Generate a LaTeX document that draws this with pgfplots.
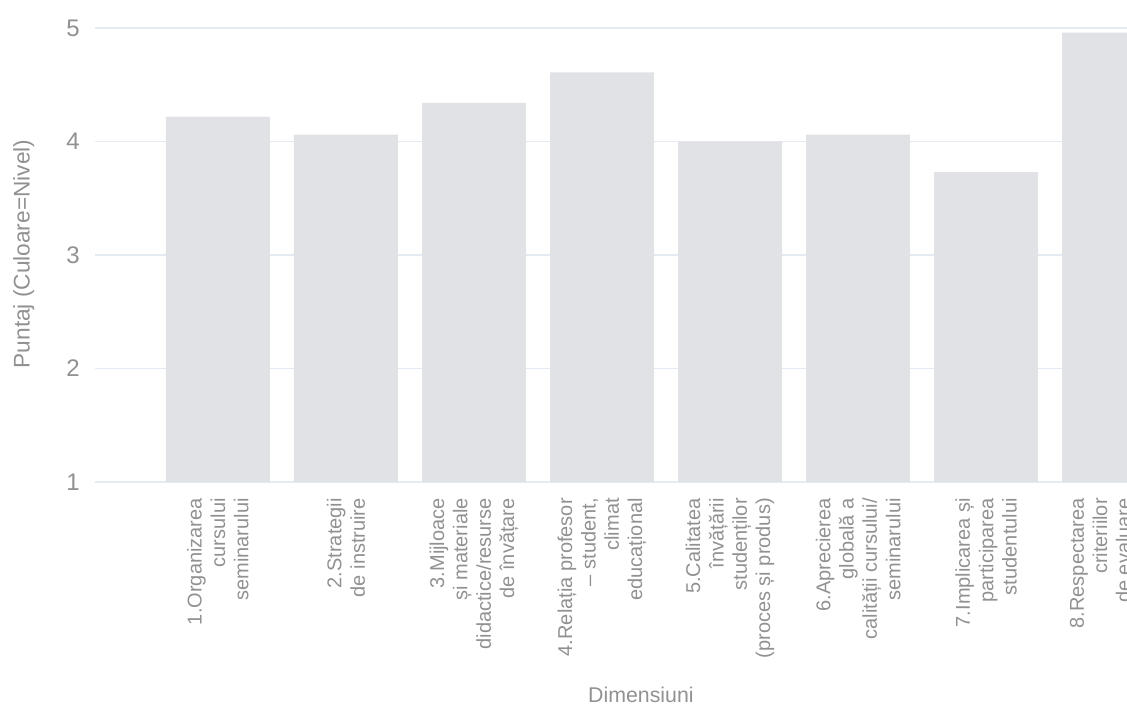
\documentclass[border=0pt]{standalone}
\usepackage{pgfplots}
\pgfplotsset{compat=1.18}
\usepackage{fontspec}
\setmainfont{Liberation Sans}
\definecolor{barc}{RGB}{224,226,229}
\definecolor{gridc}{RGB}{229,235,242}
\definecolor{txt}{RGB}{145,145,145}
\begin{document}
\begin{tikzpicture}
\path[use as bounding box] (0,0) rectangle (845.25pt,536.25pt);
\begin{axis}[
  at={(71.25pt,174.75pt)}, anchor=south west, scale only axis,
  width=774pt, height=354.1pt,
  xmin=-0.96, xmax=7.1, ymin=1, ymax=5.16,
  ybar, bar width=78pt,
  ytick={1,2,3,4,5}, xtick={0,1,2,3,4,5,6},
  xticklabels={
    {1.Organizarea\\cursului\\seminarului},
    {2.Strategii\\de instruire},
    {3.Mijloace\\și materiale\\didactice/resurse\\de învățare},
    {4.Relația profesor\\– student,\\climat\\educațional},
    {5.Calitatea\\învățării\\studenților\\(proces și produs)},
    {6.Aprecierea\\globală a\\calității cursului/\\seminarului},
    {7.Implicarea și\\participarea\\studentului}},
  extra x ticks={7},
  extra x tick labels={{8.Respectarea\\criteriilor\\de evaluare}},
  extra x tick style={xticklabel style={yshift=10.5pt}},
  ymajorgrids, grid style={gridc, line width=0.9pt},
  axis line style={draw=none}, major tick length=0pt,
  /pgf/number format/assume math mode=true,
  yticklabel style={font=\fontsize{18}{20}\selectfont, text=txt, xshift=-8pt},
  xticklabel style={rotate=90, anchor=east, align=right, font=\fontsize{15}{17.5}\selectfont, text=txt, inner xsep=12pt, inner ysep=0pt},
  ylabel={Puntaj (Culoare=Nivel)},
  ylabel style={at={(axis description cs:-0.0690,0.483)}, anchor=center, rotate=0, font=\fontsize{17}{19}\selectfont, text=txt},
  xlabel={Dimensiuni},
  xlabel style={at={(axis description cs:0.529,-0.451)}, anchor=center, font=\fontsize{16}{18}\selectfont, text=txt},
]
\addplot[fill=barc, draw=none] coordinates {
  (0,4.22) (1,4.06) (2,4.34) (3,4.61) (4,4.00) (5,4.06) (6,3.73) (7,4.96)};
\end{axis}
\end{tikzpicture}
\end{document}
